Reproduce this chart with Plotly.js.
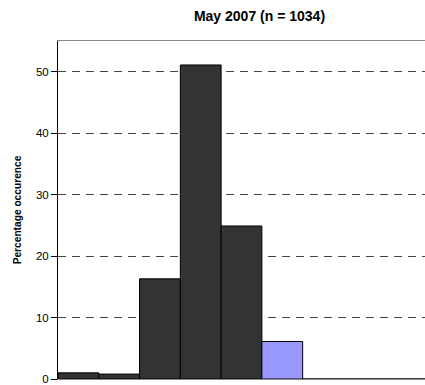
<!DOCTYPE html>
<html><head><meta charset="utf-8">
<script src="https://cdn.plot.ly/plotly-3.0.1.min.js"></script>
<style>html,body{margin:0;padding:0;background:#fff}#chart{width:425px;height:385px}</style>
</head><body><div id="chart"></div>
<script>
const categories = [1, 2, 3, 4, 5, 6, 7, 8, 9];
const values = [1.0, 0.8, 16.3, 51.1, 24.9, 6.1, 0, 0, 0];
const barColors = ['#333333', '#333333', '#333333', '#333333', '#333333', '#9999ff', '#333333', '#333333', '#333333'];
const yTicks = [0, 10, 20, 30, 40, 50];

Plotly.newPlot('chart', [{
  type: 'bar',
  x: categories,
  y: values,
  marker: {color: barColors, line: {color: '#000000', width: 1}},
  hoverinfo: 'none'
}], {
  width: 425, height: 385,
  margin: {l: 58, r: 0, t: 41, b: 6},
  bargap: 0,
  paper_bgcolor: '#ffffff', plot_bgcolor: '#ffffff',
  font: {family: 'Liberation Sans, Arial, sans-serif', size: 11, color: '#000'},
  title: {text: '<b>May 2007 (n = 1034)</b>', font: {size: 14, color: '#000'}, xref: 'paper', x: 0.549, xanchor: 'center', y: 0.958, yanchor: 'middle'},
  xaxis: {range: [0.5, 9.5], showticklabels: false, ticks: '', showgrid: false, zeroline: false,
          showline: true, linecolor: '#888888', linewidth: 1, mirror: true},
  yaxis: {range: [0, 55], tickvals: yTicks, ticks: 'outside', ticklen: 6, tickcolor: '#000',
          showgrid: true, gridcolor: '#444444', griddash: '8px,6px', gridwidth: 1,
          zeroline: false, showline: true, linecolor: '#000', linewidth: 1,
          ticklabeloverflow: 'allow',
          tickfont: {size: 11.5, color: '#000'},
          title: {text: '<b>Percentage occurence</b>', font: {size: 10.2, color: '#000'}, standoff: 12}}
}, {staticPlot: true});
</script></body></html>
